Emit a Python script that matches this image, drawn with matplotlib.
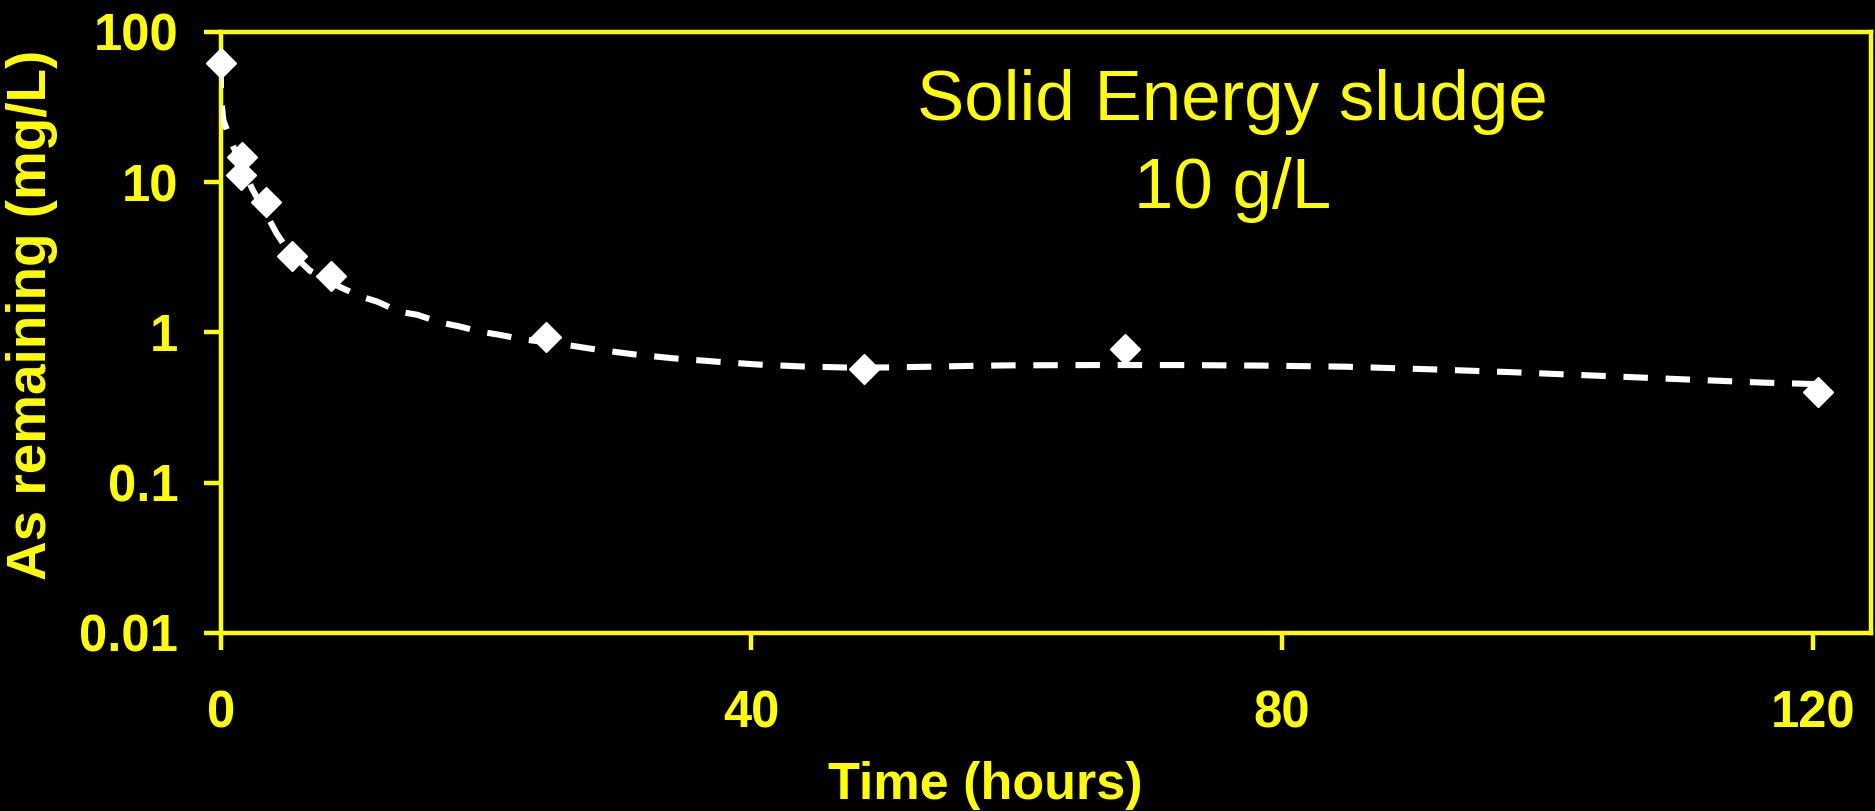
import matplotlib
matplotlib.use("Agg")
import matplotlib.pyplot as plt
from matplotlib.ticker import FixedLocator, NullLocator

# Measured data (markers)
time_h = [0, 1.5, 1.6, 3.4, 5.4, 8.3, 24.5, 48.5, 68.2, 120.4]
as_mg_l = [61.5, 11.1, 14.7, 7.4, 3.2, 2.36, 0.93, 0.57, 0.78, 0.40]

# Dashed model curve
model_t = [0, 0.03, 0.2, 0.75, 1.5, 2.4, 3.4, 4.2, 5.0, 6.7, 9.0, 10.5, 11.8,
           13.5, 14.8, 16.6, 17.9, 19.6, 21.1, 22.7, 25.5, 28.0, 31.2, 34.2,
           37.4, 40.6, 43.8, 47.0, 50.0, 53.2, 56.4, 59.4, 65.8, 72.2, 78.4,
           84.8, 91.1, 97.4, 103.7, 110.0, 116.3, 120.5]
model_y = [61.5, 36, 25.8, 19.0, 13.2, 8.9, 6.2, 4.57, 3.59, 2.58, 2.0, 1.74,
           1.6, 1.37, 1.31, 1.16, 1.10, 1.01, 0.96, 0.90, 0.84, 0.776, 0.713,
           0.671, 0.638, 0.61, 0.593, 0.584, 0.584, 0.59, 0.598, 0.603, 0.606,
           0.606, 0.601, 0.591, 0.568, 0.543, 0.515, 0.488, 0.463, 0.452]

x_ticks = [0, 40, 80, 120]
y_ticks = [0.01, 0.1, 1, 10, 100]
y_tick_labels = ["0.01", "0.1", "1", "10", "100"]

YEL = "#FFFF00"
FONT = "Liberation Sans"

fig = plt.figure(figsize=(18.75, 8.11), dpi=100, facecolor="black")
ax = fig.add_axes([220.7 / 1875, 1 - 633 / 811, (1871 - 220.7) / 1875, (633 - 31.7) / 811])
ax.set_facecolor("black")

ax.plot(model_t, model_y, color="white", lw=4.4, linestyle=(0, (4.0, 2.9)),
        solid_capstyle="butt", zorder=3)
ax.plot(time_h, as_mg_l, linestyle="none", marker="D", ms=15, mfc="white",
        mec="white", mew=1, zorder=5, clip_on=False)

ax.set_yscale("log")
ax.set_xlim(0, 124.4)
ax.set_ylim(0.01, 100)
ax.yaxis.set_major_locator(FixedLocator(y_ticks))
ax.yaxis.set_minor_locator(NullLocator())
ax.set_yticklabels(y_tick_labels)
ax.set_xticks(x_ticks)
ax.set_xticklabels([str(v) for v in x_ticks])

for s in ax.spines.values():
    s.set_color(YEL)
    s.set_linewidth(3.2)

ax.tick_params(axis="both", colors=YEL, width=3.2, length=12.5, direction="out")
ax.tick_params(axis="x", pad=28)
ax.tick_params(axis="y", pad=18)
for lab in ax.get_xticklabels() + ax.get_yticklabels():
    lab.set_fontfamily(FONT)
    lab.set_fontweight("bold")
    lab.set_fontsize(36.5)
    lab.set_color(YEL)

fig.text(985 / 1875, 1 - 799 / 811, "Time (hours)", ha="center", va="baseline",
         color=YEL, fontsize=37.5, fontweight="bold", fontfamily=FONT)
fig.text(32 / 1875, 1 - 315 / 811, "As remaining (mg/L)", ha="center", va="center",
         rotation=90, color=YEL, fontsize=39.5, fontweight="bold", fontfamily=FONT)

ax.text(0.613, 0.853, "Solid Energy sludge", transform=ax.transAxes, ha="center",
        va="baseline", color=YEL, fontsize=51, fontfamily=FONT)
ax.text(0.613, 0.707, "10 g/L", transform=ax.transAxes, ha="center",
        va="baseline", color=YEL, fontsize=51, fontfamily=FONT)

fig.savefig("out.png", dpi=100, facecolor="black")
